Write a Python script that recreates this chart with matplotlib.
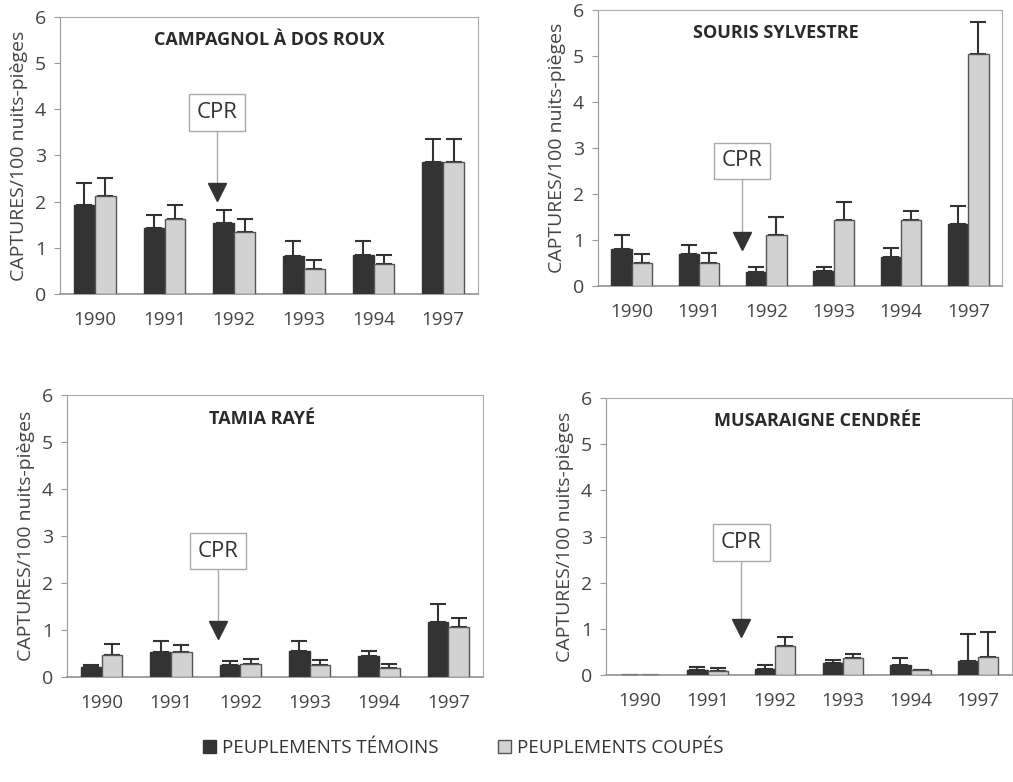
import matplotlib
matplotlib.use("Agg")
import matplotlib.pyplot as plt
import numpy as np
from matplotlib.patches import Patch

plt.rcParams['font.family'] = ['Open Sans', 'DejaVu Sans']

# Données
years = ['1990', '1991', '1992', '1993', '1994', '1997']

campagnol_temoin = [1.92, 1.43, 1.54, 0.83, 0.84, 2.86]
campagnol_temoin_err = [0.49, 0.29, 0.29, 0.31, 0.31, 0.49]
campagnol_coupe = [2.12, 1.63, 1.34, 0.54, 0.65, 2.86]
campagnol_coupe_err = [0.39, 0.29, 0.29, 0.20, 0.20, 0.49]

souris_temoin = [0.81, 0.70, 0.31, 0.33, 0.63, 1.34]
souris_temoin_err = [0.29, 0.19, 0.10, 0.08, 0.20, 0.39]
souris_coupe = [0.49, 0.50, 1.11, 1.43, 1.43, 5.04]
souris_coupe_err = [0.21, 0.21, 0.39, 0.39, 0.19, 0.70]

tamia_temoin = [0.21, 0.54, 0.26, 0.55, 0.44, 1.17]
tamia_temoin_err = [0.05, 0.23, 0.07, 0.21, 0.11, 0.38]
tamia_coupe = [0.47, 0.54, 0.28, 0.25, 0.20, 1.06]
tamia_coupe_err = [0.24, 0.14, 0.10, 0.11, 0.08, 0.20]

musaraigne_temoin = [0.01, 0.11, 0.14, 0.26, 0.22, 0.30]
musaraigne_temoin_err = [0.0, 0.07, 0.07, 0.07, 0.14, 0.58]
musaraigne_coupe = [0.01, 0.09, 0.62, 0.37, 0.10, 0.38]
musaraigne_coupe_err = [0.0, 0.06, 0.21, 0.09, 0.0, 0.55]

titles = ['CAMPAGNOL À DOS ROUX', 'SOURIS SYLVESTRE', 'TAMIA RAYÉ', 'MUSARAIGNE CENDRÉE']
title_x = [0.50, 0.44, 0.47, 0.52]
cpr_x = [1.75, 1.64, 1.68, 1.50]
cpr_box_y = [3.93, 2.72, 2.68, 2.87]
cpr_tri_y = [2.22, 0.98, 0.99, 1.02]

temoins = [campagnol_temoin, souris_temoin, tamia_temoin, musaraigne_temoin]
temoins_err = [campagnol_temoin_err, souris_temoin_err, tamia_temoin_err, musaraigne_temoin_err]
coupes = [campagnol_coupe, souris_coupe, tamia_coupe, musaraigne_coupe]
coupes_err = [campagnol_coupe_err, souris_coupe_err, tamia_coupe_err, musaraigne_coupe_err]

# positions des panneaux (pixels)
W, H = 1013, 782
boxes_px = [(60, 17, 478, 294), (598, 10, 1002, 286), (67, 395, 483, 677), (606, 398, 1012, 675)]

dark = '#333333'
light = '#d2d2d2'
grey = '#999999'
txt = '#444444'

fig = plt.figure(figsize=(W / 100, H / 100), dpi=100)

x = np.arange(len(years))
w = 0.3
for i in range(4):
    x0, y0, x1, y1 = boxes_px[i]
    ax = fig.add_axes([x0 / W, 1 - y1 / H, (x1 - x0) / W, (y1 - y0) / H])
    ax.bar(x - w / 2, temoins[i], w, color=dark, edgecolor=dark, linewidth=1, zorder=3)
    ax.bar(x + w / 2, coupes[i], w, color=light, edgecolor='#555555', linewidth=1, zorder=3)
    ax.errorbar(x - w / 2, temoins[i], yerr=[np.zeros(6), temoins_err[i]], fmt='none',
                ecolor=dark, elinewidth=1.5, capsize=6, capthick=1.5, zorder=2)
    ax.errorbar(x + w / 2, coupes[i], yerr=[np.zeros(6), coupes_err[i]], fmt='none',
                ecolor=dark, elinewidth=1.5, capsize=6, capthick=1.5, zorder=2)

    ax.set_xlim(-0.5, 5.5)
    ax.set_ylim(0, 6)
    ax.set_xticks(x)
    ax.set_xticklabels(years)
    ax.set_yticks(range(7))
    ax.tick_params(axis='x', length=0, pad=12, labelsize=13.5, labelcolor=txt)
    ax.tick_params(axis='y', length=4, color=grey, pad=6, labelsize=14, labelcolor=txt)
    for s in ax.spines.values():
        s.set_color('#aaaaaa')
    ax.spines['left'].set_color(grey)
    ax.spines['bottom'].set_color(grey)
    ax.spines['bottom'].set_linewidth(1.3)
    ax.set_ylabel('CAPTURES/100 nuits-pièges', fontsize=14, color=txt, labelpad=5)

    ax.text(title_x[i], 5.5, titles[i], transform=ax.get_yaxis_transform(),
            ha='center', va='center', fontsize=13, fontweight='bold', color='#2a2a2a')

    # annotation CPR
    ax.plot([cpr_x[i], cpr_x[i]], [cpr_box_y[i], cpr_tri_y[i]], color='#aaaaaa', lw=1, zorder=4)
    ax.plot(cpr_x[i], cpr_tri_y[i], marker='v', ms=13, color=dark, zorder=5)
    ax.text(cpr_x[i], cpr_box_y[i], 'CPR', ha='center', va='center', fontsize=16, color='#333333',
            zorder=6, bbox=dict(boxstyle='square,pad=0.35', fc='white', ec='#aaaaaa', lw=1))

handles = [Patch(facecolor=dark, edgecolor=dark), Patch(facecolor=light, edgecolor='#555555')]
fig.legend(handles, ['PEUPLEMENTS TÉMOINS', 'PEUPLEMENTS COUPÉS'], loc='center',
           bbox_to_anchor=(463 / W, 1 - 748 / H), ncol=2, frameon=False, fontsize=13.5,
           handlelength=0.7, handleheight=0.7, handletextpad=0.3, columnspacing=3.2,
           labelcolor='#333333')

fig.savefig('out.png', dpi=100)
